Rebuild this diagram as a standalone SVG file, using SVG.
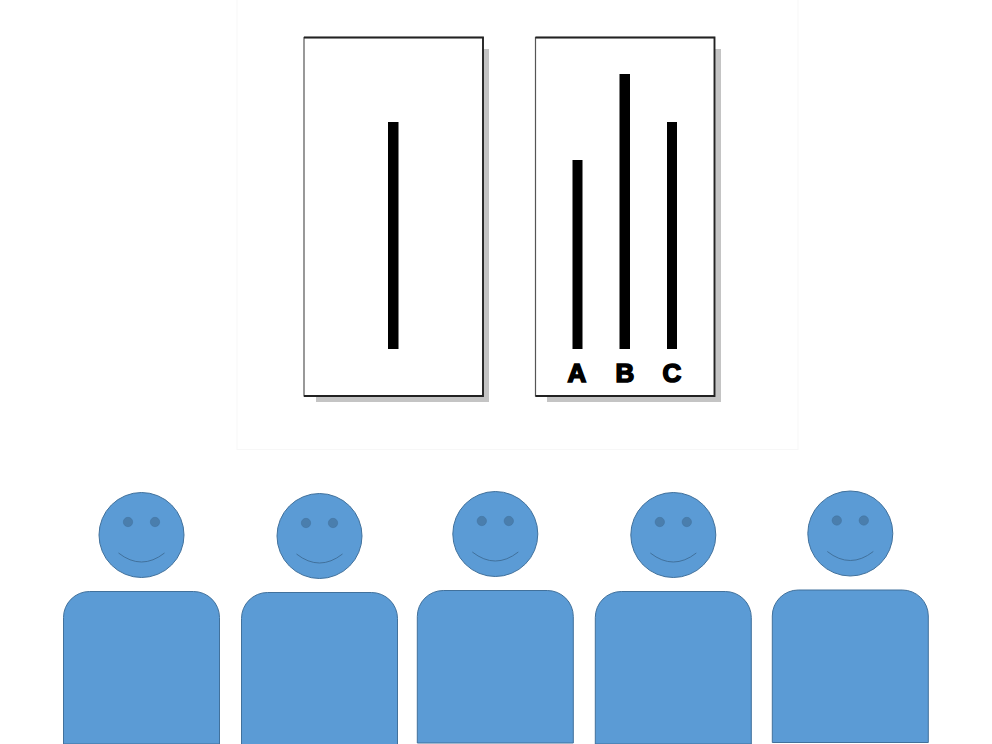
<svg xmlns="http://www.w3.org/2000/svg" xmlns:xlink="http://www.w3.org/1999/xlink" width="992" height="744" viewBox="0 0 992 744">
<style>
.shadow{fill:#c4c4c4}
.card{fill:#fff;stroke:#555;stroke-width:1.2}
.edge{fill:none;stroke:#222;stroke-width:1.8}
.bar{fill:#000}
.lbl{font-family:"Liberation Sans",Arial,sans-serif;font-weight:700;font-size:26px;fill:#000;stroke:#000;stroke-width:1.6;text-anchor:middle}
.skin{fill:#5b9bd5;stroke:#41719c;stroke-width:1}
.eye{fill:#4a7ead;stroke:#41719c;stroke-width:.5}
.smile{fill:none;stroke:#41719c;stroke-width:1}
</style>
<defs>
<g id="person">
<circle class="skin" cx="0" cy="0" r="42.500"/>
<circle class="eye" cx="-13.500" cy="-13" r="4.700"/>
<circle class="eye" cx="13.500" cy="-13" r="4.700"/>
<path class="smile" d="M-23 18Q0 36 23 18"/>
<path class="skin" d="M-78 209V82.500A26 26 0 0 1 -52 56.500H52A26 26 0 0 1 78 82.500V209Z"/>
</g>
</defs>
<rect width="992" height="744" fill="#fff"/>
<rect id="panel" x="237" y="-2" width="561" height="451.500" fill="#fff" stroke="#f7f7f7"/>
<g id="card-left">
<rect class="shadow" x="316" y="49" width="173" height="353"/>
<rect class="card" x="304" y="37.500" width="179" height="358.500"/>
<path class="edge" d="M304 37.500H483V396H304"/>
<rect class="bar" x="388" y="122" width="10.500" height="227"/>
</g>
<g id="card-right">
<rect class="shadow" x="547" y="49" width="174" height="353"/>
<rect class="card" x="535.500" y="37.500" width="179" height="358.500"/>
<path class="edge" d="M535.500 37.500H714.500V396H535.500"/>
<rect class="bar" x="572.500" y="160" width="10" height="189"/>
<rect class="bar" x="619.500" y="74" width="10.500" height="275"/>
<rect class="bar" x="667" y="122" width="10" height="227"/>
<text class="lbl" x="577" y="382">A</text>
<text class="lbl" x="625" y="382">B</text>
<text class="lbl" x="672" y="382">C</text>
</g>
<g id="person-1"><use xlink:href="#person" href="#person" x="141.500" y="535"/></g>
<g id="person-2"><use xlink:href="#person" href="#person" x="319.500" y="536"/></g>
<g id="person-3"><use xlink:href="#person" href="#person" x="495.300" y="534"/></g>
<g id="person-4"><use xlink:href="#person" href="#person" x="673.300" y="535"/></g>
<g id="person-5"><use xlink:href="#person" href="#person" x="850.300" y="533.500"/></g>
</svg>
